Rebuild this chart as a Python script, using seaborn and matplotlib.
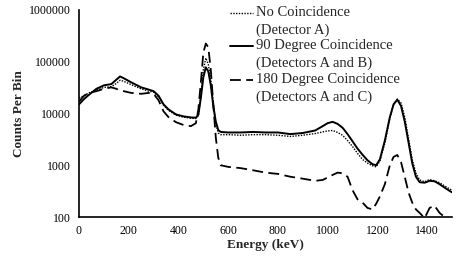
import matplotlib
matplotlib.use('Agg')
import matplotlib.pyplot as plt
from matplotlib.ticker import FixedLocator, FuncFormatter
import numpy as np
import pandas as pd
import seaborn as sns

# energy grid (keV) shared by the three spectra
energy = [0, 20, 40, 70, 100, 130, 150, 165, 180, 210, 250, 280, 300, 320, 340, 360, 390, 420, 450, 470,
          480, 490, 500, 510, 520, 530, 540, 550, 560, 570, 600, 650, 700, 750, 800, 850, 900, 950, 980,
          1000, 1020, 1040, 1060, 1080, 1100, 1120, 1140, 1160, 1180, 1195, 1210, 1230, 1250, 1265, 1280,
          1295, 1310, 1325, 1340, 1355, 1370, 1390, 1410, 1430, 1450, 1470, 1490, 1500]

no_coinc = [20000, 22000, 25000, 28000, 32000, 33000, 38000, 44000, 42000, 36000, 30000, 27000, 26000,
            21000, 14500, 11500, 9300, 8500, 8100, 8000, 9000, 22000, 70000, 118000, 90000, 45000, 16000,
            6500, 4200, 3900, 3900, 3800, 3900, 3900, 3800, 3600, 3800, 4100, 4400, 4600, 4700, 4300, 3800,
            3000, 2300, 1700, 1300, 1100, 980, 930, 1200, 2700, 8000, 15000, 19000, 16000, 8500, 3300, 1300,
            700, 520, 480, 530, 500, 460, 400, 350, 330]

deg90 = [15000, 19000, 23000, 30000, 35000, 37000, 45000, 52000, 48000, 40000, 32000, 29000, 27000,
         22000, 15000, 12000, 9600, 8800, 8400, 8300, 9500, 20000, 50000, 78000, 65000, 35000, 14000,
         7000, 4800, 4400, 4300, 4300, 4400, 4300, 4300, 4000, 4200, 4700, 5700, 6500, 6900, 6300, 5300,
         4000, 2900, 2100, 1600, 1250, 1050, 1000, 1300, 3000, 8500, 15000, 18500, 14000, 7000, 2800, 1100,
         600, 470, 460, 500, 490, 430, 370, 320, 300]

deg180 = [17000, 22000, 25000, 27000, 30000, 32000, 30000, 28000, 27000, 25000, 24000, 25000, 24000,
          18000, 11000, 8500, 6800, 6000, 5700, 6500, 12000, 40000, 150000, 225000, 190000, 70000, 15000,
          3500, 1400, 1000, 930, 880, 800, 720, 680, 600, 550, 500, 520, 580, 650, 720, 700, 600, 330, 220,
          190, 150, 140, 180, 250, 430, 1000, 1450, 1580, 1150, 600, 300, 190, 140, 120, 95, 150, 165, 120,
          100, 95, 90]

labels = ['No Coincidence\n(Detector A)',
          '90 Degree Coincidence\n(Detectors A and B)',
          '180 Degree Coincidence\n(Detectors A and C)']
x_ticks = [0, 200, 400, 600, 800, 1000, 1200, 1400]
y_ticks = [100, 1000, 10000, 100000, 1000000]

sns.set_style('white')
plt.rcParams['font.family'] = ['Liberation Serif', 'DejaVu Serif']

fig = plt.figure(figsize=(4.71, 2.65), dpi=100)
ax = fig.add_axes([79 / 471, 1 - 217 / 265, (452 - 79) / 471, (217 - 10) / 265])

sns.lineplot(x=energy, y=no_coinc, ax=ax, color='black', linewidth=1.0, linestyle=(0, (1, 1)),
             label=labels[0])
sns.lineplot(x=energy, y=deg90, ax=ax, color='black', linewidth=1.4, label=labels[1])
sns.lineplot(x=energy, y=deg180, ax=ax, color='black', linewidth=1.3, linestyle=(0, (6, 3)),
             label=labels[2])

ax.set_yscale('log')
ax.set_xlim(0, 1500)
ax.set_ylim(100, 1000000)
ax.xaxis.set_major_locator(FixedLocator(x_ticks))
ax.yaxis.set_major_locator(FixedLocator(y_ticks))
ax.yaxis.set_minor_locator(FixedLocator([]))
ax.yaxis.set_major_formatter(FuncFormatter(lambda v, p: f'{int(round(v))}'))
ax.tick_params(direction='in', length=3, width=1, colors='black', labelsize=8.5, pad=6)

for s in ['top', 'right']:
    ax.spines[s].set_visible(False)
for s in ['left', 'bottom']:
    ax.spines[s].set_color('black')
    ax.spines[s].set_linewidth(1.2)

ax.set_xlabel('Energy (keV)', fontsize=9.5, fontweight='bold', labelpad=1)
ax.set_ylabel('Counts Per Bin', fontsize=9.5, fontweight='bold', labelpad=3)

ax.get_legend().remove()
handles, lbls = ax.get_legend_handles_labels()
leg = fig.legend(handles, lbls, loc='upper left', bbox_to_anchor=(230 / 471, 1 - 6 / 265), frameon=False,
                 fontsize=10.5, handlelength=1.6, handletextpad=0.2, labelspacing=0.15, borderaxespad=0,
                 borderpad=0)
for t in leg.get_texts():
    t.set_linespacing(1.45)
# put each legend key beside the first line of its label
for ln in leg.get_lines():
    ln.set_ydata(np.asarray(ln.get_ydata()) + 6)

fig.savefig('out.png', dpi=100, facecolor='white')
